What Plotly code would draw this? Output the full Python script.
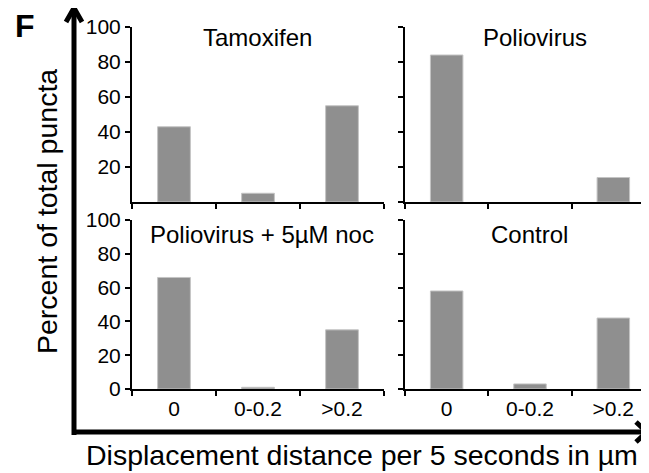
import plotly.graph_objects as go

# ---------------- data ----------------
categories = ["0", "0-0.2", ">0.2"]
tamoxifen = [43, 5, 55]
poliovirus = [84, 0, 14]
polio_noc = [66, 1, 35]
control = [58, 3, 42]
panel_titles = ["Tamoxifen", "Poliovirus", "Poliovirus + 5µM noc", "Control"]
y_ticks_top = [20, 40, 60, 80, 100]
y_ticks_bottom = [0, 20, 40, 60, 80, 100]
y_title = "Percent of total puncta"
x_title = "Displacement distance per 5 seconds in µm"
panel_letter = "F"

# ---------------- layout helpers ----------------
W, H = 649, 473
OX, OY = 8, 8  # page offset of the figure inside the browser window
FONT = "Liberation Sans, Arial, sans-serif"


def px(x):
    return (x - OX) / W


def py(y):
    return 1 - (y - OY) / H


xd_left = [px(132), px(384)]
xd_right = [px(405), px(655)]
yd_top = [py(202), py(27)]
yd_bot = [py(389), py(220)]

BAR_COLOR = "#8f8f8f"
EDGE_COLOR = "#c4c4c4"

fig = go.Figure()
series = [tamoxifen, poliovirus, polio_noc, control]
for i, vals in enumerate(series):
    suffix = "" if i == 0 else str(i + 1)
    fig.add_trace(go.Bar(
        x=categories, y=vals, width=0.39,
        marker=dict(color=BAR_COLOR,
                    line=dict(color=EDGE_COLOR, width=[1 if v > 0 else 0 for v in vals])),
        xaxis="x" + suffix, yaxis="y" + suffix, showlegend=False,
    ))

axis_common = dict(showline=True, linewidth=2, linecolor="black", ticks="outside",
                   tickwidth=2, ticklen=5, tickcolor="black", showgrid=False,
                   zeroline=False, automargin=False,
                   tickfont=dict(family=FONT, size=21, color="black"))

xcat = dict(type="category", categoryorder="array", categoryarray=categories,
            range=[-0.5, 2.5], tickson="boundaries", **axis_common)

layout = dict(
    template="none",
    width=W, height=H, margin=dict(l=0, r=0, t=0, b=0, pad=0, autoexpand=False),
    paper_bgcolor="white", plot_bgcolor="white",
    font=dict(family=FONT, color="black"),
    xaxis=dict(domain=xd_left, anchor="y", showticklabels=False, **xcat),
    yaxis=dict(domain=yd_top, anchor="x", range=[0, 100], tickvals=y_ticks_top, **axis_common),
    xaxis2=dict(domain=xd_right, anchor="y2", showticklabels=False, **xcat),
    yaxis2=dict(domain=yd_top, anchor="x2", range=[0, 100], tickvals=y_ticks_bottom,
                showticklabels=False, **axis_common),
    xaxis3=dict(domain=xd_left, anchor="y3", showticklabels=True, **xcat),
    yaxis3=dict(domain=yd_bot, anchor="x3", range=[0, 100], tickvals=y_ticks_bottom, **axis_common),
    xaxis4=dict(domain=xd_right, anchor="y4", showticklabels=True, **xcat),
    yaxis4=dict(domain=yd_bot, anchor="x4", range=[0, 100], tickvals=y_ticks_bottom,
                showticklabels=False, **axis_common),
)
fig.update_layout(**layout)

# thick arrow axes
LW = 5
shapes = [
    dict(type="line", xref="paper", yref="paper", x0=px(74), y0=py(435), x1=px(74), y1=py(9),
         line=dict(color="black", width=LW)),
    dict(type="path", xref="paper", yref="paper",
         path=f"M {px(66)},{py(22)} L {px(74)},{py(8)} L {px(82)},{py(22)}",
         line=dict(color="black", width=LW)),
    dict(type="line", xref="paper", yref="paper", x0=px(72), y0=py(432), x1=px(646), y1=py(432),
         line=dict(color="black", width=LW)),
    dict(type="path", xref="paper", yref="paper",
         path=f"M {px(636)},{py(422)} L {px(647)},{py(432)} L {px(636)},{py(442)}",
         line=dict(color="black", width=LW)),
]
fig.update_layout(shapes=shapes)

title_pos = [(257, 37), (535, 37), (262, 234), (529, 234)]
ann = []
for t, (x, y) in zip(panel_titles, title_pos):
    ann.append(dict(text=t, x=px(x), y=py(y), xref="paper", yref="paper", showarrow=False,
                    xanchor="center", yanchor="middle", font=dict(family=FONT, size=24, color="black")))
ann.append(dict(text="<b>" + panel_letter + "</b>", x=px(25), y=py(26), xref="paper", yref="paper",
                showarrow=False, xanchor="center", yanchor="middle",
                font=dict(family=FONT, size=32, color="black")))
ann.append(dict(text=y_title, x=px(47), y=py(212), xref="paper", yref="paper", showarrow=False,
                textangle=-90, xanchor="center", yanchor="middle",
                font=dict(family=FONT, size=28.5, color="black")))
ann.append(dict(text=x_title, x=px(362), y=py(455), xref="paper", yref="paper", showarrow=False,
                xanchor="center", yanchor="middle",
                font=dict(family=FONT, size=28.5, color="black")))
fig.update_layout(annotations=ann)

fig.write_html("out.html")
